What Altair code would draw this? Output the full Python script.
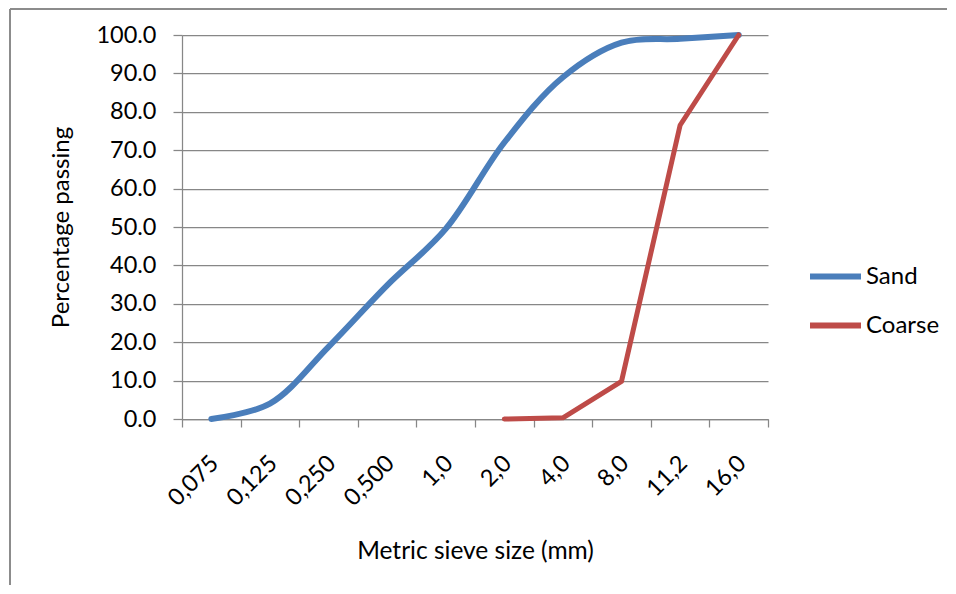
import json
import altair as alt
import pandas as pd

sizes = ["0,075", "0,125", "0,250", "0,500", "1,0", "2,0", "4,0", "8,0", "11,2", "16,0"]
sand = [0.0, 4.0, 18.8, 34.8, 49.5, 72.0, 89.0, 98.0, 99.0, 100.0]
coarse = [None, None, None, None, None, 0.0, 0.3, 9.8, 76.5, 100.0]
series = ["Sand", "Coarse"]
colors = ["#4A7EBB", "#BE4B48"]

rows = []
for i, s in enumerate(sizes):
    rows.append({"pos": i + 0.5, "size": s, "series": "Sand", "value": sand[i]})
    if coarse[i] is not None:
        rows.append({"pos": i + 0.5, "size": s, "series": "Coarse", "value": coarse[i]})
df = pd.DataFrame(rows)

FONT = "Lato"
GRAY = "#878787"

label_expr = "datum.value < 10 ? " + json.dumps(sizes) + "[datum.value] : ''"

x_enc = alt.X(
    "pos:Q",
    scale=alt.Scale(domain=[0, 10], nice=False, zero=False),
    axis=alt.Axis(
        title="Metric sieve size (mm)",
        values=list(range(11)),
        labelExpr=label_expr,
        labelAngle=-45,
        labelOffset=24,
        labelPadding=24,
        labelOverlap=False,
        labelFontSize=23.5,
        labelFont=FONT,
        labelColor="#000000",
        tickSize=8,
        tickColor=GRAY,
        tickWidth=1.25,
        domainColor=GRAY,
        domainWidth=1.25,
        grid=False,
        titleFont=FONT,
        titleFontSize=24.5,
        titleFontWeight="normal",
        titleColor="#000000",
        titlePadding=30,
    ),
)
y_enc = alt.Y(
    "value:Q",
    scale=alt.Scale(domain=[0, 100], nice=False),
    axis=alt.Axis(
        title="Percentage passing",
        values=list(range(0, 101, 10)),
        format=".1f",
        labelFontSize=23.5,
        labelFont=FONT,
        labelColor="#000000",
        labelPadding=17,
        labelOverlap=False,
        tickSize=9,
        tickColor=GRAY,
        tickWidth=1.25,
        domainColor=GRAY,
        domainWidth=1.25,
        grid=True,
        gridColor=GRAY,
        gridWidth=1.25,
        titleFont=FONT,
        titleFontSize=24,
        titleFontWeight="normal",
        titleColor="#000000",
        titlePadding=22,
    ),
)
color_enc = alt.Color(
    "series:N",
    scale=alt.Scale(domain=series, range=colors),
    legend=alt.Legend(
        title=None,
        orient="none",
        legendX=625,
        legendY=213,
        symbolType="stroke",
        symbolSize=2600,
        symbolStrokeWidth=6,
        labelFont=FONT,
        labelFontSize=24,
        labelColor="#000000",
        labelOffset=2,
        rowPadding=8,
        padding=0,
    ),
)

base = alt.Chart(df)
sand_line = base.transform_filter(alt.datum.series == "Sand").mark_line(
    strokeWidth=6, interpolate="catmull-rom", strokeCap="round", strokeJoin="round"
).encode(x=x_enc, y=y_enc, color=color_enc)
coarse_line = base.transform_filter(alt.datum.series == "Coarse").mark_line(
    strokeWidth=5, strokeCap="round", strokeJoin="round"
).encode(x=x_enc, y=y_enc, color=color_enc)

frame_left = alt.Chart(df).mark_rule(color="#8c8c8c", strokeWidth=1.5).encode(
    x=alt.value(-172), y=alt.value(-26), y2=alt.value(700)
)
frame_top = alt.Chart(df).mark_rule(color="#8c8c8c", strokeWidth=1.5).encode(
    x=alt.value(-172), x2=alt.value(900), y=alt.value(-26)
)

chart = alt.layer(frame_left, frame_top, sand_line, coarse_line).properties(
    width=586,
    height=384,
    autosize=alt.AutoSizeParams(type="none"),
    padding={"left": 174, "top": 27, "right": 179, "bottom": 166},
    background="white",
).configure_view(stroke=None)

chart.save("out.html", embed_options={"renderer": "svg", "actions": False})
